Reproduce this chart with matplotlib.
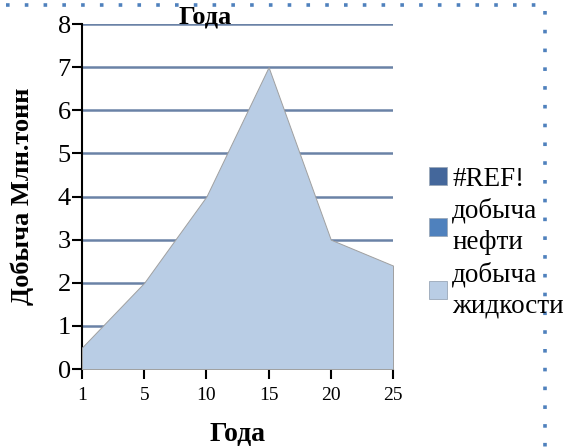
import numpy as np
import matplotlib.pyplot as plt
from matplotlib.patches import Patch
from matplotlib.lines import Line2D

# chart data
years = ['1', '5', '10', '15', '20', '25']
liquid = [0.5, 2.0, 4.0, 7.0, 3.0, 2.4]   # добыча жидкости
series_names = ['#REF!', 'добыча\nнефти', 'добыча\nжидкости']
series_colors = ['#44679b', '#4f81bd', '#b9cde5']

plt.rcParams['font.family'] = ['Liberation Serif', 'DejaVu Serif']

fig = plt.figure(figsize=(5.67, 4.48), dpi=100)
ax = fig.add_axes([0.1446, 0.1763, 0.5485, 0.7701])

x = np.arange(len(years))
ax.fill_between(x, 0, liquid, facecolor=series_colors[2], edgecolor='#a0a0a0',
                linewidth=0.7, zorder=3)

ax.set_xlim(0, len(years) - 1)
ax.set_ylim(0, 8)
ax.set_xticks(x)
ax.set_xticklabels(years, fontsize=14)
ax.set_yticks(range(0, 9))
ax.tick_params(axis='y', labelsize=19, length=7, width=1.5, pad=1)
ax.tick_params(axis='x', length=7, width=1.5, pad=6)

for yv in range(1, 9):
    ax.axhline(yv, color='#6a82a6', linewidth=1.8, zorder=1)

for s in ['top', 'right']:
    ax.spines[s].set_visible(False)
ax.spines['left'].set_linewidth(1.5)
ax.spines['bottom'].set_visible(False)

fig.text(0.3616, 0.962, 'Года', fontsize=19, fontweight='bold', ha='center', va='center')
ax.set_xlabel('Года', fontsize=20, fontweight='bold', labelpad=13)
ax.set_ylabel('Добыча Млн.тонн', fontsize=19, fontweight='bold', labelpad=17)

handles = [Patch(facecolor=c, edgecolor='#9aa8b8', linewidth=0.6) for c in series_colors]
leg = fig.legend(handles, series_names, loc='upper left', bbox_to_anchor=(0.757, 0.628),
                 frameon=False, fontsize=19.5, handlelength=0.65, handleheight=0.65,
                 handletextpad=0.2, labelspacing=0.25, borderpad=0, borderaxespad=0)
for t in leg.get_texts():
    t.set_linespacing(1.32)

# dotted frame border
dot = dict(color='#4f81bd', linewidth=2.6, linestyle=(0, (1, 4.2)),
           solid_capstyle='butt', dash_capstyle='butt')
fig.add_artist(Line2D([0.01, 0.962], [0.988, 0.988], transform=fig.transFigure, **dot))
fig.add_artist(Line2D([0.962, 0.962], [0.975, 0.0], transform=fig.transFigure, **dot))

fig.savefig('out.png', dpi=100)
